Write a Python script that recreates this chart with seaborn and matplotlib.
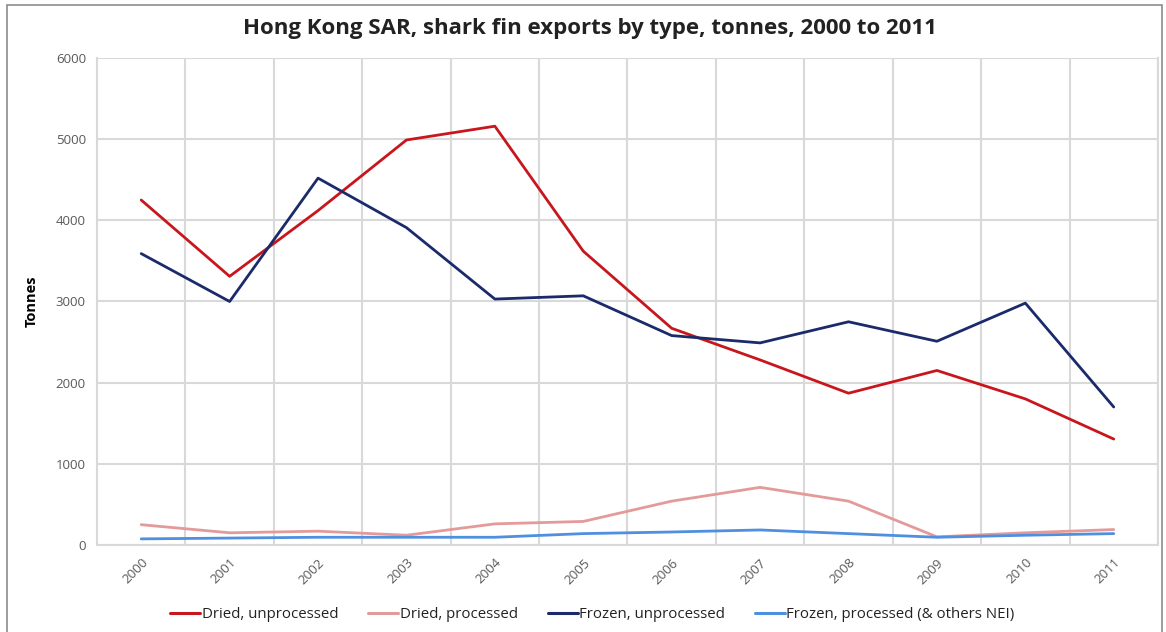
import matplotlib
matplotlib.use("Agg")
import matplotlib.pyplot as plt
from matplotlib.patches import Rectangle
import numpy as np
import pandas as pd
import seaborn as sns

years = [2000, 2001, 2002, 2003, 2004, 2005, 2006, 2007, 2008, 2009, 2010, 2011]
dried_unprocessed = [4250, 3310, 4120, 4990, 5160, 3620, 2670, 2280, 1870, 2150, 1800, 1305]
dried_processed = [250, 150, 170, 120, 260, 290, 540, 710, 540, 100, 150, 190]
frozen_unprocessed = [3590, 3000, 4520, 3910, 3030, 3070, 2580, 2490, 2750, 2510, 2980, 1700]
frozen_processed = [75, 85, 95, 95, 95, 140, 160, 185, 140, 95, 120, 140]

series_names = ["Dried, unprocessed", "Dried, processed",
                "Frozen, unprocessed", "Frozen, processed (& others NEI)"]
series_values = [dried_unprocessed, dried_processed, frozen_unprocessed, frozen_processed]
colors = ["#C8161D", "#E39A9A", "#1B2A6B", "#4F8FE0"]

frames = []
for name, vals in zip(series_names, series_values):
    frames.append(pd.DataFrame({"pos": np.arange(len(years)), "year": years,
                                "value": vals, "series": name}))
df = pd.concat(frames, ignore_index=True)

sns.set_theme(style="white")
plt.rcParams["font.family"] = ["Open Sans", "DejaVu Sans"]

fig = plt.figure(figsize=(11.66, 6.32), dpi=100)
ax = fig.add_axes([0.0832, 0.1377, 0.9099, 0.7705])

sns.lineplot(data=df, x="pos", y="value", hue="series", hue_order=series_names,
             palette=colors, linewidth=2.0, ax=ax, legend=False)

ax.set_xlim(-0.5, len(years) - 0.5)
ax.set_ylim(0, 6000)
ax.set_yticks(np.arange(0, 6001, 1000))
ax.set_yticklabels([str(v) for v in range(0, 6001, 1000)], fontsize=9.5, color="#595959")
ax.set_xticks(np.arange(len(years)))
ax.set_xticklabels([str(y) for y in years], rotation=45, ha="right",
                   rotation_mode="anchor", fontsize=9.5, color="#595959")
ax.set_xticks(np.arange(len(years) + 1) - 0.5, minor=True)
ax.tick_params(axis="both", which="both", length=0, pad=8)

ax.grid(False)
ax.yaxis.grid(True, color="#D9D9D9", linewidth=1.5)
ax.xaxis.grid(True, which="minor", color="#D9D9D9", linewidth=1.5)
ax.set_axisbelow(True)
for side in ["left", "bottom", "right"]:
    ax.spines[side].set_color("#D9D9D9")
    ax.spines[side].set_linewidth(1.5)
ax.spines["top"].set_visible(False)

ax.set_xlabel("")
ax.set_ylabel("Tonnes", fontsize=10.5, fontweight="bold", color="black", labelpad=12)

fig.text(0.506, 0.955, "Hong Kong SAR, shark fin exports by type, tonnes, 2000 to 2011",
         ha="center", va="center", fontsize=16, fontweight="bold", color="#222222")

handles = [plt.Line2D([], [], color=c, linewidth=2.2) for c in colors]
fig.legend(handles, series_names, loc="center", bbox_to_anchor=(0.508, 0.028),
           ncol=4, frameon=False, fontsize=10.8, handlelength=2.0, handletextpad=0.1,
           columnspacing=2.0, labelcolor="#222222")

fig.patches.append(Rectangle((7 / 1166, -0.05), 1155 / 1166, 1 - 5 / 632 + 0.05,
                             transform=fig.transFigure, fill=False,
                             edgecolor="#8C8C8C", linewidth=1.2))

fig.savefig("out.png", dpi=100)
